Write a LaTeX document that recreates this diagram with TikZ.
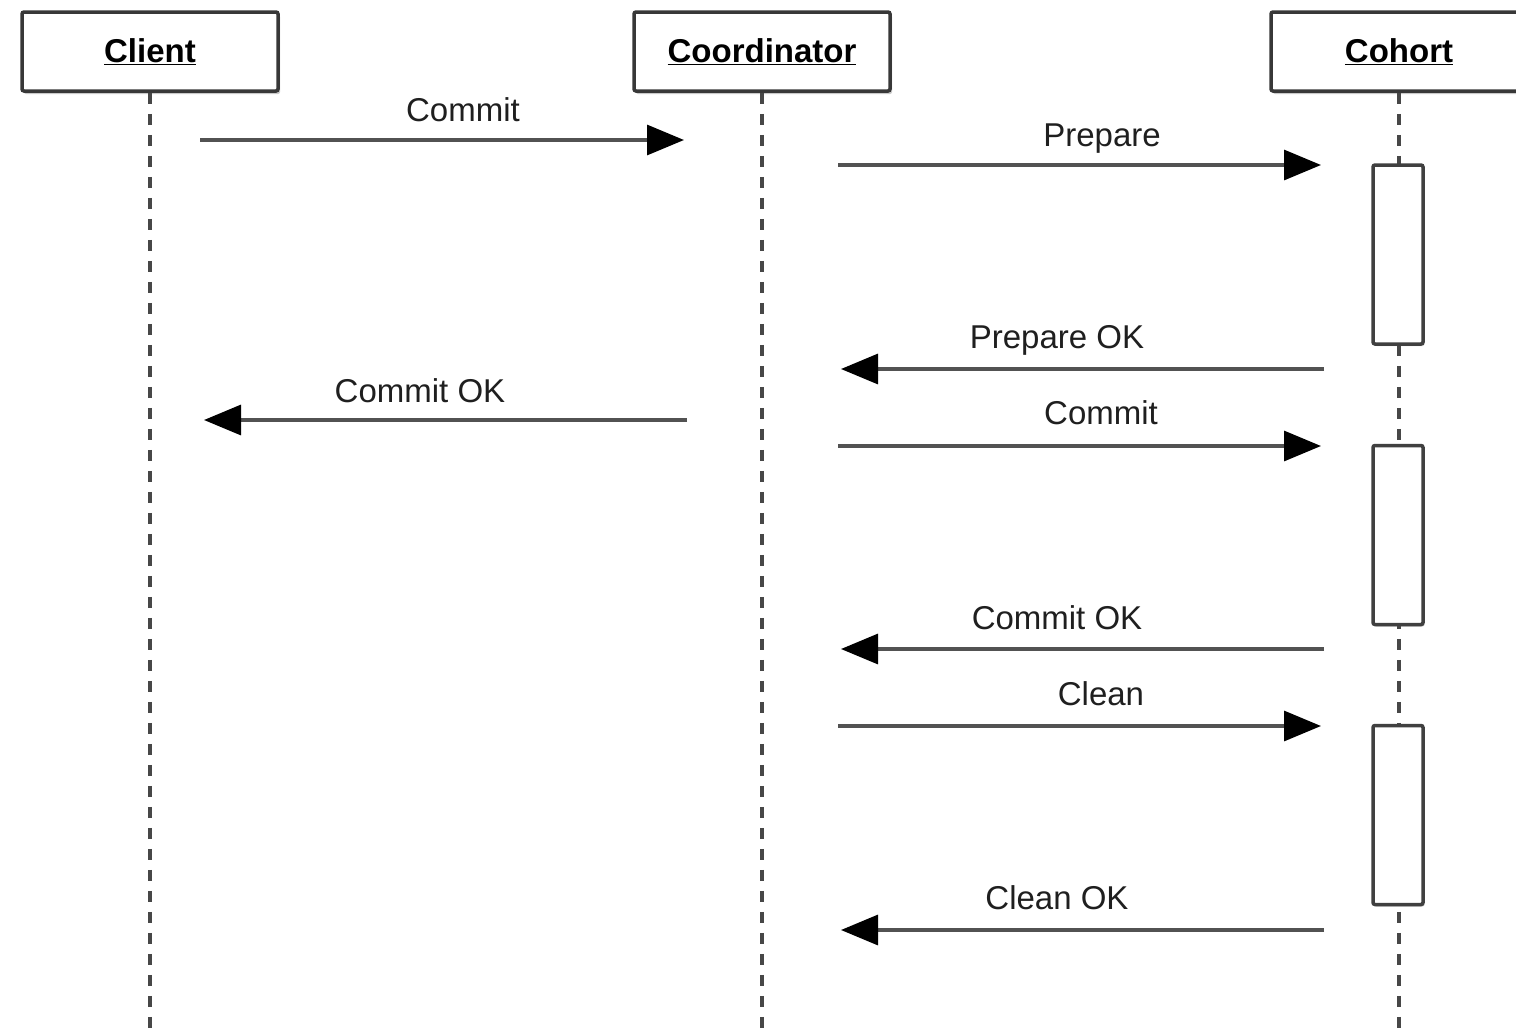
\documentclass[tikz,border=0pt]{standalone}
\usepackage{fontspec}
\setmainfont{Liberation Sans}
\usetikzlibrary{arrows.meta,shadows}
\begin{document}
\begin{tikzpicture}[x=1pt,y=-1pt,
  headbox/.style={draw=black!78,line width=3.5pt,fill=white,rounded corners=2pt,minimum width=256pt,minimum height=79pt,inner sep=0pt,
    drop shadow={shadow xshift=2pt,shadow yshift=-3pt,opacity=0.35,fill=black!60},
    font=\fontsize{33}{40}\selectfont\bfseries},
  lifeline/.style={draw=black!72,line width=3.2pt,dash pattern=on 11pt off 10pt},
  actbox/.style={draw=black!75,line width=3.5pt,fill=white,rounded corners=2pt,minimum width=50pt,minimum height=179pt,inner sep=0pt,
    drop shadow={shadow xshift=1.5pt,shadow yshift=-2pt,opacity=0.3,fill=black!60}},
  msg/.style={draw=black!68,line width=3.2pt,-{Triangle[length=37pt,width=30pt,fill=black,color=black]}},
  lbl/.style={font=\fontsize{33}{40}\selectfont,text=black!88,inner sep=0pt}
]
\useasboundingbox (0,0) rectangle (1516,1031);
\clip (0,0) rectangle (1516,1031);
\fill[white] (0,0) rectangle (1516,1031);

% lifelines ends
\coordinate (clEnd) at (150,1035);
\coordinate (coEnd) at (762,1035);
\coordinate (chEnd) at (1399,1035);

\node[headbox] (client) at (150,51.5) {\underline{Client}};
\node[headbox] (coord) at (762,51.5) {\underline{Coordinator}};
\node[headbox] (cohort) at (1399,51.5) {\underline{Cohort}};

\draw[lifeline] (client.south) -- (clEnd);
\draw[lifeline] (coord.south) -- (coEnd);
\draw[lifeline] (cohort.south) -- (chEnd);

% activation boxes
\node[actbox] (act1) at (1398,254.5) {};
\node[actbox] (act2) at (1398,535) {};
\node[actbox] (act3) at (1398,815) {};

% message endpoints
\coordinate (m1s) at (200,140);  \coordinate (m1e) at (684,140);
\coordinate (m2s) at (838,165);  \coordinate (m2e) at (1321,165);
\coordinate (m3s) at (1324,369); \coordinate (m3e) at (841,369);
\coordinate (m4s) at (687,420);  \coordinate (m4e) at (204,420);
\coordinate (m5s) at (838,446);  \coordinate (m5e) at (1321,446);
\coordinate (m6s) at (1324,649); \coordinate (m6e) at (841,649);
\coordinate (m7s) at (838,726);  \coordinate (m7e) at (1321,726);
\coordinate (m8s) at (1324,930); \coordinate (m8e) at (841,930);

\draw[msg] (m1s) -- (m1e);
\draw[msg] (m2s) -- (m2e);
\draw[msg] (m3s) -- (m3e);
\draw[msg] (m4s) -- (m4e);
\draw[msg] (m5s) -- (m5e);
\draw[msg] (m6s) -- (m6e);
\draw[msg] (m7s) -- (m7e);
\draw[msg] (m8s) -- (m8e);

% labels
\node[lbl] (l1) at (463,110) {Commit};
\node[lbl] (l2) at (1102,139) {Prepare};
\node[lbl] (l3) at (1057,340) {Prepare OK};
\node[lbl] (l4) at (420,391) {Commit OK};
\node[lbl] (l5) at (1101,413) {Commit};
\node[lbl] (l6) at (1057,618) {Commit OK};
\node[lbl] (l7) at (1101,694) {Clean};
\node[lbl] (l8) at (1057,898) {Clean OK};
\end{tikzpicture}
\end{document}
